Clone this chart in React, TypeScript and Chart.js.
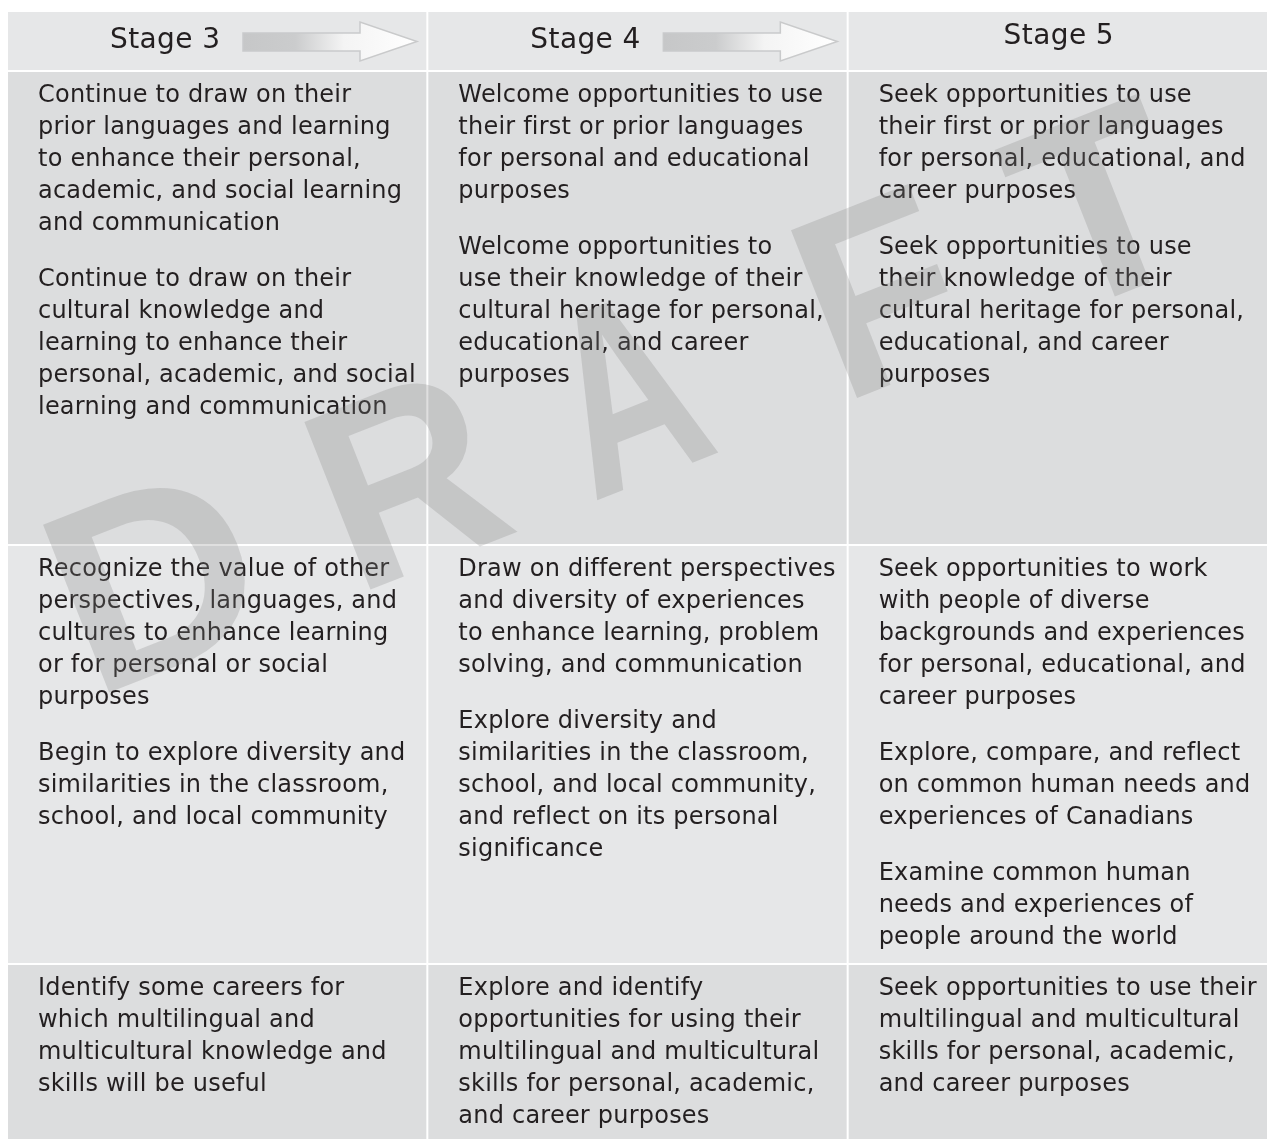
import React, { useEffect, useRef } from "react";
import { Chart, registerables } from "chart.js";

Chart.register(...registerables);

// ---- data ----
const stageLabels = ["Stage 3", "Stage 4", "Stage 5"];
const stageHasArrow = [true, true, false];
const rowNames = ["Stages", "Languages and heritage", "Perspectives and diversity", "Careers"];
// row heights, measured in text lines
const rowHeightsInLines = [1.875, 14.8125, 13.09, 6];
const visibleLines = 35.25;
const rowColors = ["#e6e7e8", "#dcddde", "#e6e7e8", "#dcddde"];

const languagesText: string[][][] = [
  [
    ["Continue to draw on their", "prior languages and learning", "to enhance their personal,", "academic, and social learning", "and communication"],
    ["Continue to draw on their", "cultural knowledge and", "learning to enhance their", "personal, academic, and social", "learning and communication"],
  ],
  [
    ["Welcome opportunities to use", "their first or prior languages", "for personal and educational", "purposes"],
    ["Welcome opportunities to", "use their knowledge of their", "cultural heritage for personal,", "educational, and career", "purposes"],
  ],
  [
    ["Seek opportunities to use", "their first or prior languages", "for personal, educational, and", "career purposes"],
    ["Seek opportunities to use", "their knowledge of their", "cultural heritage for personal,", "educational, and career", "purposes"],
  ],
];

const perspectivesText: string[][][] = [
  [
    ["Recognize the value of other", "perspectives, languages, and", "cultures to enhance learning", "or for personal or social", "purposes"],
    ["Begin to explore diversity and", "similarities in the classroom,", "school, and local community"],
  ],
  [
    ["Draw on different perspectives", "and diversity of experiences", "to enhance learning, problem", "solving, and communication"],
    ["Explore diversity and", "similarities in the classroom,", "school, and local community,", "and reflect on its personal", "significance"],
  ],
  [
    ["Seek opportunities to work", "with people of diverse", "backgrounds and experiences", "for personal, educational, and", "career purposes"],
    ["Explore, compare, and reflect", "on common human needs and", "experiences of Canadians"],
    ["Examine common human", "needs and experiences of", "people around the world"],
  ],
];

const careersText: string[][][] = [
  [["Identify some careers for", "which multilingual and", "multicultural knowledge and", "skills will be useful"]],
  [["Explore and identify", "opportunities for using their", "multilingual and multicultural", "skills for personal, academic,", "and career purposes"]],
  [["Seek opportunities to use their", "multilingual and multicultural", "skills for personal, academic,", "and career purposes"]],
];

const bodyRows = [languagesText, perspectivesText, careersText];
const watermarkLetters = ["D", "R", "A", "F", "T"];

// ---- styling ----
const TEXT_COLOR = "#231f20";
const BODY_FONT = '24px "DejaVu Sans", Verdana, sans-serif';
const HEAD_FONT = '28px "DejaVu Sans", Verdana, sans-serif';
const LINE = 32;
const PARA_GAP = 24;
const WATERMARK_OFFSETS = [0, 281, 524, 804, 1021];
const WATERMARK_SCALE_X = [1.08, 0.95, 0.74, 0.95, 1.0];

function cellBox(el: any) {
  const p = el.getProps(["x", "y", "base", "width"], true);
  const left = p.x - p.width / 2;
  const top = Math.min(p.y, p.base);
  return { left, top, width: p.width };
}

function drawArrow(ctx: CanvasRenderingContext2D, left: number, top: number) {
  const x0 = left + 236;
  const xh = left + 353;
  const xt = left + 410;
  ctx.save();
  ctx.beginPath();
  ctx.moveTo(x0, top + 22);
  ctx.lineTo(xh, top + 22);
  ctx.lineTo(xh, top + 11);
  ctx.lineTo(xt, top + 30.5);
  ctx.lineTo(xh, top + 50);
  ctx.lineTo(xh, top + 40);
  ctx.lineTo(x0, top + 40);
  ctx.closePath();
  const g = ctx.createLinearGradient(x0, 0, xt, 0);
  g.addColorStop(0, "#c6c7c8");
  g.addColorStop(0.3, "#cbcccd");
  g.addColorStop(0.58, "#f4f4f4");
  g.addColorStop(1, "#ffffff");
  ctx.fillStyle = g;
  ctx.fill();
  ctx.strokeStyle = "#c9cacb";
  ctx.lineWidth = 1.5;
  ctx.lineJoin = "miter";
  ctx.stroke();
  ctx.restore();
}

const tablePlugin = {
  id: "tableContent",
  afterDatasetsDraw(chart: any) {
    const ctx: any = chart.ctx;
    const area = chart.chartArea;
    ctx.save();
    ctx.beginPath();
    ctx.rect(area.left, area.top, area.right - area.left, area.bottom - area.top);
    ctx.clip();
    ctx.fillStyle = TEXT_COLOR;
    ctx.textBaseline = "alphabetic";

    // header row
    const headMeta = chart.getDatasetMeta(0);
    headMeta.data.forEach((el: any, j: number) => {
      const b = cellBox(el);
      ctx.letterSpacing = "0.4px";
      if (stageHasArrow[j]) {
        drawArrow(ctx, b.left, b.top);
        ctx.fillStyle = TEXT_COLOR;
        ctx.font = HEAD_FONT;
        ctx.textAlign = "left";
        ctx.fillText(stageLabels[j], b.left + 103, b.top + 37);
      } else {
        ctx.fillStyle = TEXT_COLOR;
        ctx.font = HEAD_FONT;
        ctx.textAlign = "center";
        ctx.fillText(stageLabels[j], b.left + b.width / 2 + 1, b.top + 33);
      }
    });

    // body rows
    ctx.font = BODY_FONT;
    ctx.letterSpacing = "0.22px";
    ctx.textAlign = "left";
    ctx.fillStyle = TEXT_COLOR;
    bodyRows.forEach((rowText, r) => {
      const meta = chart.getDatasetMeta(r + 1);
      meta.data.forEach((el: any, j: number) => {
        const b = cellBox(el);
        let y = b.top + 31;
        rowText[j].forEach((para, pi) => {
          if (pi > 0) y += PARA_GAP;
          para.forEach((line) => {
            ctx.fillText(line, b.left + 31, y);
            y += LINE;
          });
        });
      });
    });

    // DRAFT watermark
    ctx.letterSpacing = "0px";
    const th = (21.5 * Math.PI) / 180;
    const ux = Math.cos(th);
    const uy = -Math.sin(th);
    const bx = area.left + 101;
    const by = area.top + 682;
    ctx.font = 'bold 262px "Liberation Sans", Arial, sans-serif';
    ctx.fillStyle = "rgba(131,132,133,0.26)";
    ctx.textAlign = "left";
    watermarkLetters.forEach((ch, i) => {
      const m = ctx.measureText(ch);
      const sx = WATERMARK_SCALE_X[i];
      const o = WATERMARK_OFFSETS[i] + m.actualBoundingBoxLeft * sx;
      ctx.save();
      ctx.translate(bx + ux * o, by + uy * o);
      ctx.rotate(-th);
      ctx.scale(sx, 1);
      ctx.fillText(ch, 0, 0);
      ctx.restore();
    });
    ctx.restore();
  },
};

export default function App() {
  const canvasRef = useRef<HTMLCanvasElement | null>(null);

  useEffect(() => {
    if (!canvasRef.current) return;
    const bounds: number[] = [0];
    rowHeightsInLines.forEach((h, i) => bounds.push(bounds[i] + h));
    const datasets = rowNames.map((name, r) => ({
      label: name,
      data: stageLabels.map(() => [bounds[r], bounds[r + 1]] as [number, number]),
      backgroundColor: rowColors[r],
      borderColor: "#ffffff",
      borderWidth: 1,
      borderSkipped: false as const,
      grouped: false,
      barPercentage: 1,
      categoryPercentage: 1,
      inflateAmount: 0,
    }));
    const chart = new Chart(canvasRef.current, {
      type: "bar",
      data: { labels: stageLabels, datasets: datasets as any },
      options: {
        animation: false,
        responsive: true,
        maintainAspectRatio: false,
        events: [],
        layout: { padding: { left: 7, top: 11, right: 0, bottom: 0 } },
        plugins: {
          legend: { display: false },
          tooltip: { enabled: false },
          title: { display: false },
        },
        scales: {
          x: { type: "category", display: false, offset: true, grid: { display: false } },
          y: { type: "linear", display: false, reverse: true, min: 0, max: visibleLines },
        },
      },
      plugins: [tablePlugin],
    });
    return () => chart.destroy();
  }, []);

  return (
    <div style={{ position: "fixed", left: 0, top: 0, width: 1268, height: 1139, background: "#ffffff" }}>
      <canvas ref={canvasRef} />
    </div>
  );
}
